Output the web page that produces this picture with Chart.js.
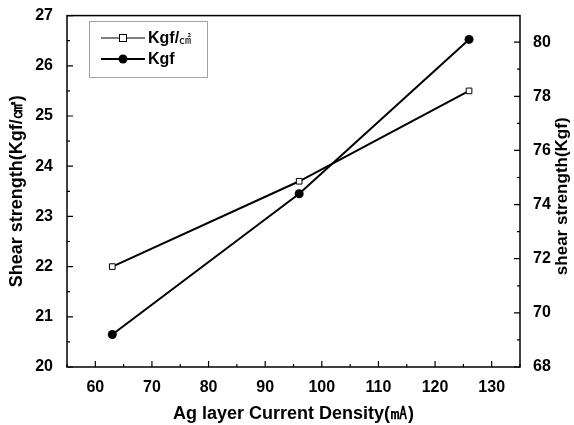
<!DOCTYPE html>
<html><head><meta charset="utf-8">
<script src="https://cdn.jsdelivr.net/npm/chart.js@4/dist/chart.umd.min.js"></script>
<style>html,body{margin:0;padding:0;background:#fff}#wrap{width:574px;height:425px}</style>
</head><body><div id="wrap"><canvas id="c" width="574" height="425"></canvas></div>
<script>
const currentDensity = [63, 96, 126];
const strengthArea = [22.0, 23.7, 25.5];
const strengthForce = [69.2, 74.4, 80.1];
const xTicks = [60, 70, 80, 90, 100, 110, 120, 130];
const leftTicks = [20, 21, 22, 23, 24, 25, 26, 27];
const rightTicks = [68, 70, 72, 74, 76, 78, 80];
const seriesNames = ['Kgf/㎠', 'Kgf'];
const rightTitle = 'shear strength(Kgf)';

const FONT = '"Liberation Sans", Arial, sans-serif';

const inTicks = {
  id: 'inTicks',
  afterDraw(chart) {
    const ctx = chart.ctx, a = chart.chartArea;
    const x = chart.scales.x, yl = chart.scales.y, yr = chart.scales.y2;
    ctx.save();
    ctx.strokeStyle = '#000';
    ctx.lineWidth = 1.5;
    ctx.strokeRect(a.left, a.top, a.right - a.left, a.bottom - a.top);
    ctx.lineWidth = 1.2;
    ctx.beginPath();
    for (let v = 55; v <= 135; v += 5) {
      const p = x.getPixelForValue(v);
      const len = (v % 10 === 0) ? 6 : 3;
      ctx.moveTo(p, a.bottom); ctx.lineTo(p, a.bottom - len);
    }
    for (let v = 20; v <= 27; v += 0.5) {
      const p = yl.getPixelForValue(v);
      const len = (Math.abs(v - Math.round(v)) < 1e-6) ? 6 : 3;
      ctx.moveTo(a.left, p); ctx.lineTo(a.left + len, p);
    }
    for (let v = 68; v <= 80; v += 1) {
      const p = yr.getPixelForValue(v);
      const len = (v % 2 === 0) ? 6 : 3;
      ctx.moveTo(a.right, p); ctx.lineTo(a.right - len, p);
    }
    ctx.stroke();

    // right axis title (reads bottom-to-top)
    ctx.save();
    ctx.translate(562, (a.top + a.bottom) / 2 + 5);
    ctx.rotate(-Math.PI / 2);
    ctx.font = 'bold 17px ' + FONT;
    ctx.fillStyle = '#000';
    ctx.textAlign = 'center';
    ctx.textBaseline = 'middle';
    ctx.fillText(rightTitle, 0, 0);
    ctx.restore();

    // legend box
    const bx = 89, by = 21, bw = 118, bh = 56;
    ctx.setLineDash([1, 1]);
    ctx.lineWidth = 1;
    ctx.strokeStyle = '#444';
    ctx.strokeRect(bx + 0.5, by + 0.5, bw, bh);
    ctx.setLineDash([]);
    const rows = [by + 17, by + 38];
    chart.data.datasets.forEach((ds, i) => {
      const ry = rows[i];
      ctx.strokeStyle = '#000';
      ctx.lineWidth = i === 0 ? 1.2 : 2;
      ctx.beginPath(); ctx.moveTo(101, ry); ctx.lineTo(145, ry); ctx.stroke();
      if (i === 0) {
        ctx.fillStyle = '#fff'; ctx.lineWidth = 1;
        ctx.fillRect(119, ry - 4, 8, 8); ctx.strokeRect(119.5, ry - 3.5, 7, 7);
      } else {
        ctx.fillStyle = '#000';
        ctx.beginPath(); ctx.arc(123, ry, 4.5, 0, Math.PI * 2); ctx.fill();
      }
      ctx.fillStyle = '#000';
      ctx.font = 'bold 16px ' + FONT;
      ctx.textBaseline = 'middle';
      ctx.textAlign = 'left';
      if (i === 0) {
        ctx.fillText('Kgf/', 148, ry + 1);
        const w = ctx.measureText('Kgf/').width;
        ctx.font = '12px "Noto Sans CJK KR"';
        ctx.fillText('㎠', 148 + w, ry + 1);
      } else {
        ctx.fillText(ds.label, 148, ry + 1);
      }
    });
    ctx.restore();
  }
};

new Chart(document.getElementById('c'), {
  type: 'line',
  data: {
    datasets: [
      {
        label: seriesNames[0],
        data: currentDensity.map((x, i) => ({ x, y: strengthArea[i] })),
        yAxisID: 'y',
        borderColor: '#000', borderWidth: 2,
        pointStyle: 'rect', pointRadius: 4, pointBackgroundColor: '#fff',
        pointBorderColor: '#000', pointBorderWidth: 1,
        tension: 0
      },
      {
        label: seriesNames[1],
        data: currentDensity.map((x, i) => ({ x, y: strengthForce[i] })),
        yAxisID: 'y2',
        borderColor: '#000', borderWidth: 2,
        pointStyle: 'circle', pointRadius: 4.5, pointBackgroundColor: '#000',
        pointBorderColor: '#000', pointBorderWidth: 0,
        tension: 0
      }
    ]
  },
  options: {
    responsive: false,
    animation: false,
    devicePixelRatio: 1,
    layout: { padding: { top: 15, left: 0, right: 0, bottom: 0 } },
    plugins: { legend: { display: false }, tooltip: { enabled: false } },
    scales: {
      x: {
        type: 'linear', min: 55, max: 135,
        afterBuildTicks: s => { s.ticks = xTicks.map(v => ({ value: v })); },
        afterFit: s => { s.height = 58; },
        grid: { display: false },
        border: { display: false },
        ticks: { color: '#000', font: { family: FONT, size: 16, weight: 'bold' }, padding: 3, maxRotation: 0 },
        title: { display: true, text: 'Ag layer Current Density(㎃)', color: '#000', font: { family: FONT, size: 18, weight: 'bold' }, padding: { top: 4, bottom: 0 } }
      },
      y: {
        type: 'linear', position: 'left', min: 20, max: 27,
        afterBuildTicks: s => { s.ticks = leftTicks.map(v => ({ value: v })); },
        afterFit: s => { s.width = 67; },
        grid: { display: false },
        border: { display: false },
        ticks: { color: '#000', font: { family: FONT, size: 16, weight: 'bold' }, padding: 6 },
        title: { display: true, text: 'Shear strength(Kgf/㎠)', color: '#000', font: { family: FONT, size: 18, weight: 'bold' }, padding: { top: 6, bottom: 4 } }
      },
      y2: {
        type: 'linear', position: 'right', min: 68, max: 80.98,
        afterBuildTicks: s => { s.ticks = rightTicks.map(v => ({ value: v })); },
        afterFit: s => { s.width = 54; },
        grid: { display: false },
        border: { display: false },
        ticks: { color: '#000', font: { family: FONT, size: 16, weight: 'bold' }, padding: 5 },
        title: { display: false }
      }
    }
  },
  plugins: [inTicks]
});
</script>
</body></html>
